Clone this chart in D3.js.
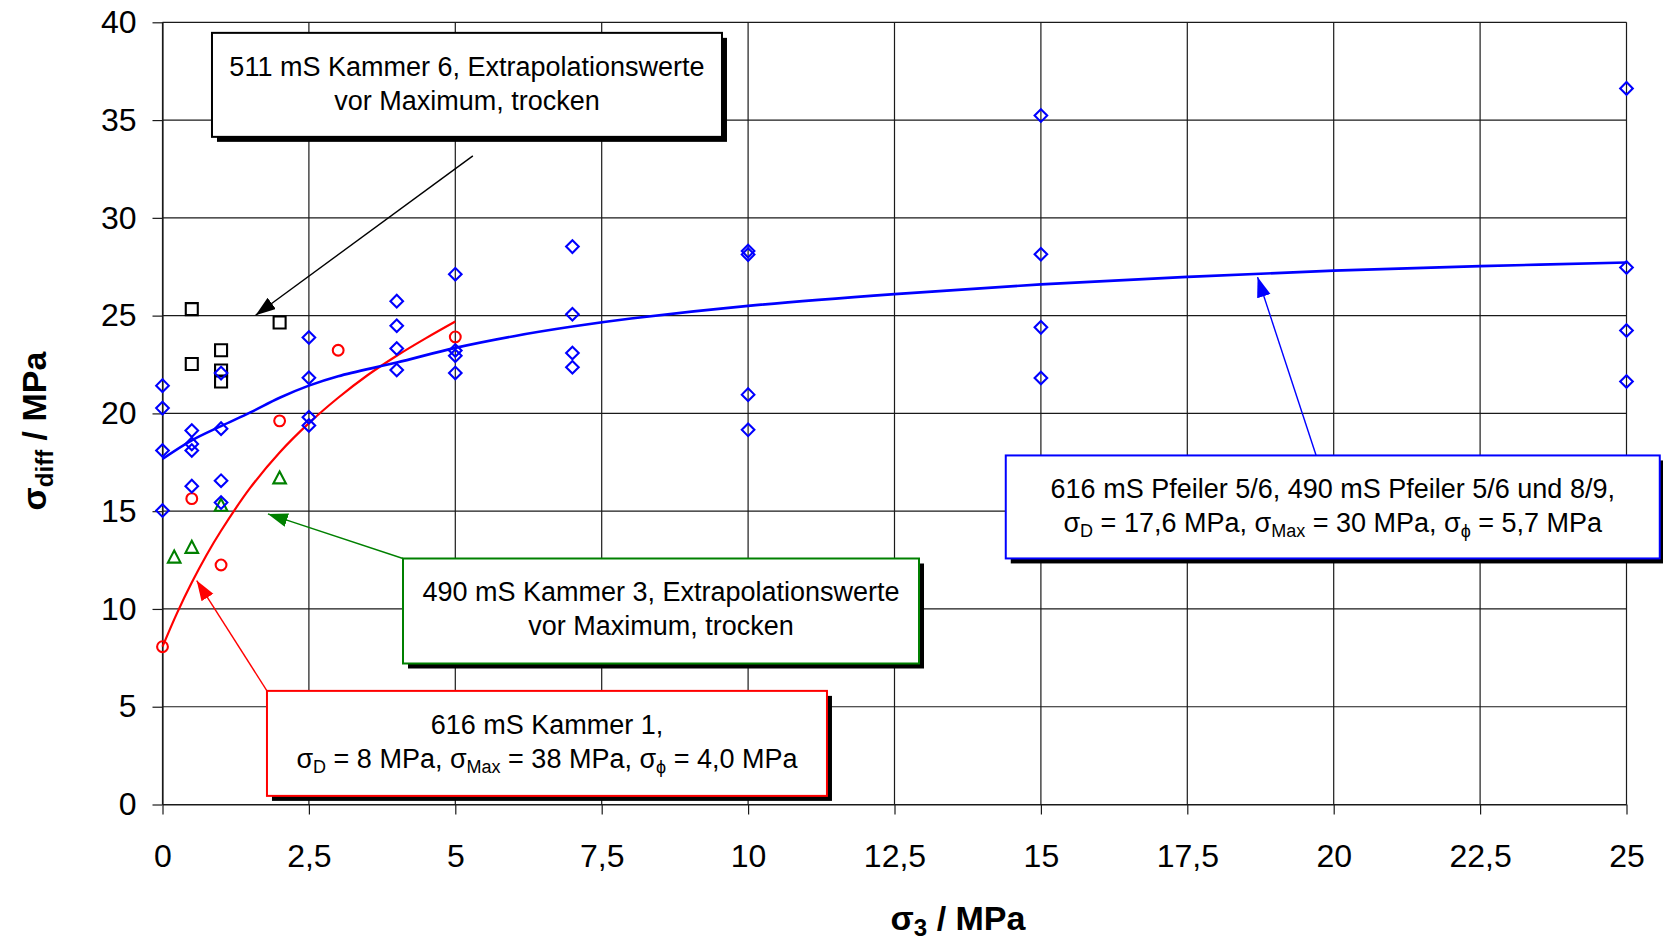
<!DOCTYPE html>
<html>
<head>
<meta charset="utf-8">
<script src="https://cdn.jsdelivr.net/npm/d3@7"></script>
<style>
  body { margin: 0; background: #fff; }
  svg { font-family: "Liberation Sans", Arial, sans-serif; }
</style>
</head>
<body>
<svg id="chart"></svg>
<script>
/* Achsen */
const xTicks = [0, 2.5, 5, 7.5, 10, 12.5, 15, 17.5, 20, 22.5, 25];
const xTickLabels = ["0", "2,5", "5", "7,5", "10", "12,5", "15", "17,5", "20", "22,5", "25"];
const yTicks = [0, 5, 10, 15, 20, 25, 30, 35, 40];
const yTickLabels = ["0", "5", "10", "15", "20", "25", "30", "35", "40"];

/* 616 mS Pfeiler 5/6, 490 mS Pfeiler 5/6 und 8/9 (blaue Rauten) */
const pfeilerPoints = [
  [0, 21.42], [0, 20.27], [0, 18.10], [0, 15.03],
  [0.5, 19.12], [0.5, 18.44], [0.5, 18.10], [0.5, 16.28],
  [1, 22.06], [1, 19.22], [1, 16.56], [1, 15.44],
  [2.5, 23.88], [2.5, 21.82], [2.5, 19.80], [2.5, 19.38],
  [4, 25.74], [4, 24.48], [4, 23.32], [4, 22.22],
  [5, 27.12], [5, 23.22], [5, 22.95], [5, 22.07],
  [7, 28.53], [7, 25.07], [7, 23.09], [7, 22.36],
  [10, 28.30], [10, 28.12], [10, 20.96], [10, 19.16],
  [15, 35.23], [15, 28.14], [15, 24.40], [15, 21.81],
  [25, 36.62], [25, 27.46], [25, 24.24], [25, 21.63]
];
/* 511 mS Kammer 6 (schwarze Quadrate) */
const kammer6Points = [[0.5, 25.33], [0.5, 22.53], [1, 23.23], [1, 22.19], [1, 21.63], [2, 24.65]];
/* 616 mS Kammer 1 (rote Kreise) */
const kammer1Points = [[0, 8.07], [0.5, 15.64], [1, 12.25], [2, 19.62], [3, 23.23], [5, 23.91]];
/* 490 mS Kammer 3 (gruene Dreiecke) */
const kammer3Points = [[0.2, 12.6], [0.5, 13.1], [1, 15.25], [2, 16.65]];

/* Ausgleichskurven */
const pfeilerCurve = [
  [0, 17.67], [0.5, 18.62], [1, 19.35], [1.5, 20.05], [2, 20.8], [2.5, 21.42], [3, 21.9],
  [4, 22.6], [5, 23.35], [6, 23.95], [7, 24.44], [8, 24.85], [10, 25.5], [12.5, 26.1],
  [15, 26.6], [17.5, 26.98], [20, 27.3], [22.5, 27.53], [25, 27.72]
];
const kammer1Curve = [
  [0, 8.07], [0.25, 9.8], [0.5, 11.35], [0.75, 12.75], [1, 14.0], [1.5, 16.2], [2, 18.0],
  [2.5, 19.5], [3, 20.8], [3.5, 21.95], [4, 22.95], [4.5, 23.85], [5, 24.7]
];

/* Beschriftungskaesten */
const noteLines = {
  kammer6: [[{t: "511 mS Kammer 6, Extrapolationswerte"}], [{t: "vor Maximum, trocken"}]],
  kammer3: [[{t: "490 mS Kammer 3, Extrapolationswerte"}], [{t: "vor Maximum, trocken"}]],
  kammer1: [[{t: "616 mS Kammer 1,"}],
            [{t: "σ"}, {t: "D", sub: true}, {t: " = 8 MPa, σ"}, {t: "Max", sub: true},
             {t: " = 38 MPa, σ"}, {t: "ϕ", sub: true}, {t: " = 4,0 MPa"}]],
  pfeiler: [[{t: "616 mS Pfeiler 5/6, 490 mS Pfeiler 5/6 und 8/9,"}],
            [{t: "σ"}, {t: "D", sub: true}, {t: " = 17,6 MPa, σ"}, {t: "Max", sub: true},
             {t: " = 30 MPa, σ"}, {t: "ϕ", sub: true}, {t: " = 5,7 MPa"}]]
};

/* Groesse */
const width = 1663;
const height = 946;
const margin = {left: 162.5, right: 36.5, top: 22.3, bottom: 141.5};

const svg = d3.select("#chart")
  .attr("width", width)
  .attr("height", height);

const xScale = d3.scaleLinear()
  .domain([0, 25])
  .range([margin.left, width - margin.right]);
const yScale = d3.scaleLinear()
  .domain([0, 40])
  .range([height - margin.bottom, margin.top]);

/* Gitter */
const grid = svg.append("g").attr("stroke", "#1a1a1a").attr("stroke-width", 1.2);
grid.selectAll("line.h")
  .data(yTicks)
  .join("line")
  .attr("class", "h")
  .attr("x1", xScale(0)).attr("x2", xScale(25))
  .attr("y1", d => yScale(d)).attr("y2", d => yScale(d));
grid.selectAll("line.v")
  .data(xTicks)
  .join("line")
  .attr("class", "v")
  .attr("x1", d => xScale(d)).attr("x2", d => xScale(d))
  .attr("y1", yScale(0)).attr("y2", yScale(40));

/* x-Achse */
const xAxis = svg.append("g")
  .attr("transform", "translate(0," + yScale(0) + ")")
  .call(d3.axisBottom(xScale)
    .tickValues(xTicks)
    .tickFormat((d, i) => xTickLabels[i])
    .tickSize(10)
    .tickSizeOuter(0)
    .tickPadding(30));

/* y-Achse */
const yAxis = svg.append("g")
  .attr("transform", "translate(" + xScale(0) + ",0)")
  .call(d3.axisLeft(yScale)
    .tickValues(yTicks)
    .tickFormat((d, i) => yTickLabels[i])
    .tickSize(10)
    .tickSizeOuter(0)
    .tickPadding(16));

[xAxis, yAxis].forEach(a => {
  a.selectAll("text")
    .attr("font-family", "Liberation Sans, Arial, sans-serif")
    .attr("font-size", 32)
    .attr("fill", "#000");
  a.selectAll("line, path").attr("stroke", "#1a1a1a").attr("stroke-width", 1.2);
});

/* Text mit Tiefstellung */
function addRich(sel, parts, size, subSize, subShift) {
  let shifted = false;
  parts.forEach(p => {
    const ts = sel.append("tspan").text(p.t);
    if (p.sub) {
      ts.attr("font-size", subSize).attr("dy", shifted ? 0 : subShift);
      shifted = true;
    } else {
      ts.attr("font-size", size);
      if (shifted) { ts.attr("dy", -subShift); shifted = false; }
    }
  });
}

/* Achsentitel */
const xTitle = svg.append("text")
  .attr("x", 958).attr("y", 930)
  .attr("text-anchor", "middle")
  .attr("font-weight", "bold");
addRich(xTitle, [{t: "σ"}, {t: "3", sub: true}, {t: " / MPa"}], 34, 24, 6);

const yTitle = svg.append("text")
  .attr("transform", "translate(46,431) rotate(-90)")
  .attr("text-anchor", "middle")
  .attr("font-weight", "bold");
addRich(yTitle, [{t: "σ"}, {t: "diff", sub: true}, {t: " / MPa"}], 34, 24, 7);

/* Kurven */
const line = d3.line()
  .x(d => xScale(d[0]))
  .y(d => yScale(d[1]))
  .curve(d3.curveCatmullRom.alpha(0.5));

svg.append("path")
  .datum(kammer1Curve)
  .attr("d", line)
  .attr("fill", "none")
  .attr("stroke", "#ff0000")
  .attr("stroke-width", 2.2);

svg.append("path")
  .datum(pfeilerCurve)
  .attr("d", line)
  .attr("fill", "none")
  .attr("stroke", "#0000ff")
  .attr("stroke-width", 2.6);

/* Punkte */
const shapes = {
  diamond: "M0,-6.3L6.3,0L0,6.3L-6.3,0Z",
  square: "M-6,-6H6V6H-6Z",
  circle: d3.symbol(d3.symbolCircle, Math.PI * 5.4 * 5.4)(),
  triangle: "M0,-7.5L6.3,4.5H-6.3Z"
};
function drawPoints(data, shape, color) {
  svg.append("g")
    .selectAll("path")
    .data(data)
    .join("path")
    .attr("transform", d => "translate(" + xScale(d[0]) + "," + yScale(d[1]) + ")")
    .attr("d", shapes[shape])
    .attr("fill", "none")
    .attr("stroke", color)
    .attr("stroke-width", 2.1);
}
drawPoints(kammer6Points, "square", "#000");
drawPoints(kammer3Points, "triangle", "#008000");
drawPoints(kammer1Points, "circle", "#ff0000");
drawPoints(pfeilerPoints, "diamond", "#0000ff");

/* Pfeile und Kaesten */
const notes = [
  {key: "kammer6", color: "#000000", box: [0.845, 39.46], w: 510, h: 104,
   from: [5.30, 33.17], to: [1.59, 25.02]},
  {key: "kammer3", color: "#008000", box: [4.107, 12.58], w: 516, h: 105,
   from: [4.107, 12.58], to: [1.80, 14.86]},
  {key: "kammer1", color: "#ff0000", box: [1.784, 5.81], w: 560, h: 105,
   from: [1.784, 5.81], to: [0.584, 11.45]},
  {key: "pfeiler", color: "#0000ff", box: [14.40, 17.85], w: 654, h: 103,
   from: [19.70, 17.85], to: [18.70, 26.97]}
];

const defs = svg.append("defs");
notes.forEach(n => {
  defs.append("marker")
    .attr("id", "arrow-" + n.key)
    .attr("markerUnits", "userSpaceOnUse")
    .attr("markerWidth", 22).attr("markerHeight", 16)
    .attr("refX", 20).attr("refY", 7)
    .attr("orient", "auto")
    .append("path")
    .attr("d", "M0,0L20,7L0,14Z")
    .attr("fill", n.color);

  svg.append("line")
    .attr("x1", xScale(n.from[0])).attr("y1", yScale(n.from[1]))
    .attr("x2", xScale(n.to[0])).attr("y2", yScale(n.to[1]))
    .attr("stroke", n.color)
    .attr("stroke-width", 1.4)
    .attr("marker-end", "url(#arrow-" + n.key + ")");
});

notes.forEach(n => {
  const bx = xScale(n.box[0]);
  const by = yScale(n.box[1]);
  const g = svg.append("g").attr("transform", "translate(" + bx + "," + by + ")");
  g.append("rect")
    .attr("x", 5).attr("y", 5)
    .attr("width", n.w).attr("height", n.h)
    .attr("fill", "#000");
  g.append("rect")
    .attr("width", n.w).attr("height", n.h)
    .attr("fill", "#fff")
    .attr("stroke", n.color)
    .attr("stroke-width", 2);
  noteLines[n.key].forEach((parts, i) => {
    const t = g.append("text")
      .attr("x", n.w / 2)
      .attr("y", i === 0 ? 43 : 77)
      .attr("text-anchor", "middle")
      .attr("fill", "#000");
    addRich(t, parts, 27, 18, 5);
  });
});
</script>
</body>
</html>
